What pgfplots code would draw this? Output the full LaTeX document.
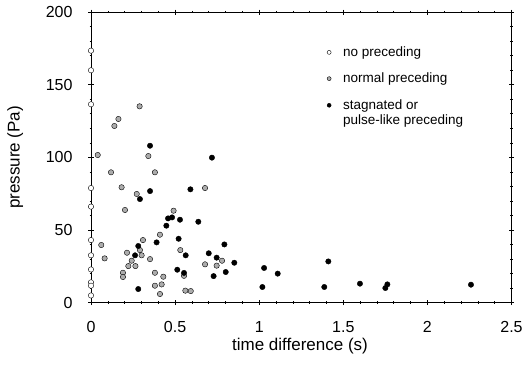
\documentclass[border=0pt]{standalone}
\usepackage{pgfplots}
\pgfplotsset{compat=1.18}
\usepackage{fontspec}
\setmainfont{Liberation Sans}
\begin{document}
\begin{tikzpicture}
\useasboundingbox (-91pt,-65.3pt) rectangle (435pt,302.7pt);
\begin{axis}[
  at={(0,0)}, anchor=south west,
  scale only axis, width=420.5pt, height=290.7pt,
  xmin=0, xmax=2.5, ymin=0, ymax=200,
  xtick={0,0.5,1,1.5,2,2.5}, ytick={0,50,100,150,200},
  minor x tick num=4, minor y tick num=4,
  tick align=center, major tick length=5pt, minor tick length=2.5pt,
  tick style={black, line width=0.6pt},
  axis line style={line width=0.8pt},
  /pgf/number format/assume math mode=true,
  ticklabel style={font=\fontsize{16}{18}\selectfont},
  xticklabel style={yshift=-12.5pt},
  yticklabel style={xshift=-12.5pt},
  xlabel={time difference (s)}, ylabel={pressure (Pa)},
  label style={font=\fontsize{17}{19}\selectfont},
  xlabel style={at={(axis description cs:0.497,-0.148)}, anchor=center},
  ylabel style={at={(axis description cs:-0.18,0.5)}, anchor=center},
  clip=false,
  legend style={at={(axis cs:1.385,179)}, anchor=north west, draw=none, fill=none,
    font=\fontsize{13.5}{15}\selectfont, row sep=11pt,
    /tikz/every odd column/.append style={column sep=10pt}},
  legend cell align=left,
  every axis plot/.append style={only marks, mark=*, mark size=2.7pt, mark options={draw=black, line width=0.5pt}},
  legend image post style={mark size=2pt},
]
\addplot[mark options={fill=white}] coordinates {
(0,173.4)(0,159.9)(0,136.5)(0,78.9)(0,66.1)(0,43.1)(0,32.6)(0,22.9)(0,14.0)(0,11.7)(0,5.0)};
\addlegendentry{no preceding}
\addplot[mark options={fill=gray!65}] coordinates {
(0.04,101.6)(0.139,121.6)(0.163,126.4)(0.289,135.1)(0.341,100.9)(0.119,89.7)(0.38,89.7)(0.182,79.4)(0.678,78.9)(0.272,74.8)(0.202,63.8)(0.491,63.3)(0.41,46.8)(0.309,43.1)(0.061,39.7)(0.291,36.2)(0.214,34.4)(0.531,36.2)(0.301,32.6)(0.081,30.5)(0.351,30.0)(0.779,28.9)(0.242,28.9)(0.222,25.2)(0.264,25.2)(0.678,26.4)(0.747,25.5)(0.19,20.6)(0.19,17.7)(0.38,20.6)(0.553,18.5)(0.43,17.9)(0.38,11.7)(0.42,12.6)(0.41,6.0)(0.561,8.3)(0.593,8.0)};
\addlegendentry{normal preceding}
\addplot[mark options={fill=black}] coordinates {
(0.351,108.0)(0.719,99.8)(0.591,78.0)(0.291,71.3)(0.351,76.8)(0.458,58.0)(0.482,58.7)(0.529,57.1)(0.638,55.7)(0.448,53.0)(0.521,44.0)(0.39,41.5)(0.793,40.1)(0.281,39.0)(0.7,34.0)(0.262,32.6)(0.563,32.6)(0.747,31.0)(0.852,27.5)(0.513,22.7)(0.801,21.1)(0.553,20.5)(0.729,18.3)(0.281,9.4)(1.029,23.9)(1.11,20.0)(1.019,10.8)(1.411,28.4)(1.387,10.8)(1.599,13.1)(1.75,10.1)(1.762,12.6)(2.259,12.4)};
\addlegendentry{\begin{tabular}[t]{@{}l@{}}stagnated or\\pulse-like preceding\end{tabular}}
\end{axis}
\end{tikzpicture}
\end{document}
